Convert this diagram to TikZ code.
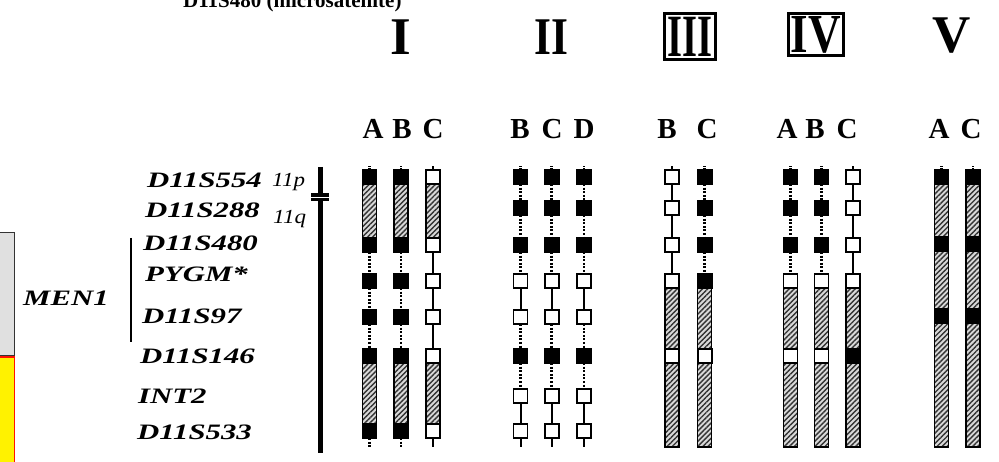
\documentclass[tikz,border=0pt]{standalone}
\usepackage{fontspec}
\setmainfont{Liberation Serif}
\usetikzlibrary{patterns.meta,backgrounds}

% horizontally stretched text for locus names
\newcommand\lcwide[1]{\scalebox{1.4}[1]{#1}}

\begin{document}
\begin{tikzpicture}[x=1pt,y=-1pt,
  mk/.style={draw=black, line width=1.6pt, minimum width=14pt, minimum height=14pt, inner sep=0pt, outer sep=0pt},
  blk/.style={mk, fill=black},
  wht/.style={mk, fill=white},
  hatchbar/.style={draw=black, line width=1.4pt, preaction={fill=black!15},
    pattern={Lines[angle=45, distance=3.6pt, line width=1.4pt]}, pattern color=black!80},
  dotlink/.style={line width=2.6pt, dash pattern=on 2pt off 1.6pt},
  sollink/.style={line width=2pt},
  roman/.style={inner sep=0pt, font=\fontsize{53}{53}\bfseries\selectfont},
  romanbox/.style={draw, line width=3pt, inner sep=0pt},
  colhead/.style={anchor=base, inner sep=0pt, font=\fontsize{29}{29}\bfseries\selectfont},
  locus/.style={anchor=base west, inner sep=0pt, font=\fontsize{22}{22}\bfseries\itshape\selectfont},
  arm/.style={anchor=base west, inner sep=0pt, font=\fontsize{20}{20}\itshape\selectfont}]
\clip (0,0) rectangle (999,462);

% coloured boxes at the left margin
\draw[draw=black!80, line width=1pt, fill=black!12] (-5,233) rectangle (14.5,356);
\draw[draw=red!85!orange, line width=1.2pt, fill=yellow] (-5,357) rectangle (14.5,470);

% heading
\node[anchor=base west, inner sep=0pt, font=\fontsize{21}{21}\bfseries\selectfont] (title) at (183,8) {D11S480 (microsatellite)};

% family numerals
\node[roman, anchor=base] (numI) at (401,55) {I};
\node[roman, anchor=base] (numII) at (551.5,55) {\scalebox{0.82}[1]{II}};
\node[romanbox, minimum width=51pt, minimum height=46pt, font=\fontsize{60}{60}\bfseries\selectfont] (numIII) at (690,36.5) {\scalebox{0.64}[1]{III}};
\node[romanbox, minimum width=55pt, minimum height=42pt, font=\fontsize{55}{55}\bfseries\selectfont] (numIV) at (816,34.5) {\scalebox{0.82}[1]{IV}};
\node[roman, anchor=base] (numV) at (951.5,53) {V};

% individual letters
\foreach \n/\t/\x in {IA/A/373, IB/B/402, IC/C/433,
                      IIB/B/520, IIC/C/552, IID/D/584,
                      IIIB/B/667, IIIC/C/707,
                      IVA/A/787, IVB/B/815, IVC/C/847,
                      VA/A/939, VC/C/971}
  \node[colhead] (h\n) at (\x,139) {\t};

% locus names
\node[locus] (l1) at (147,188) {\lcwide{D11S554}};
\node[locus] (l2) at (145,218) {\lcwide{D11S288}};
\node[locus] (l3) at (143,251) {\lcwide{D11S480}};
\node[locus] (l4) at (145,282) {\lcwide{PYGM*}};
\node[locus] (l5) at (142,324) {\lcwide{D11S97}};
\node[locus] (l6) at (140,363) {\lcwide{D11S146}};
\node[locus] (l7) at (138,403) {\lcwide{INT2}};
\node[locus] (l8) at (137,439) {\lcwide{D11S533}};
\node[locus] (men) at (23,306) {\lcwide{MEN1}};
\coordinate (menTop) at (131,238);
\coordinate (menBot) at (131,342);
\draw[line width=1.8pt] (menTop) -- (menBot);

% chromosome 11 ideogram
\node[arm] (armP) at (272,187) {\scalebox{1.15}[1]{11p}};
\node[arm] (armQ) at (273,224) {\scalebox{1.15}[1]{11q}};
\coordinate (pter) at (320,167);
\coordinate (qter) at (320,453);
\draw[line width=5pt] (pter) -- (qter);
\fill (311,193) rectangle (329,201);
\draw[white, line width=0.9pt] (310,197) -- (330,197);

% reference heights for the free ends of the bars
\coordinate (top) at (0,166);
\coordinate (bot) at (0,447);

% family I
\foreach \c/\x in {A/369.5, B/401}{
  \foreach \r/\y in {1/177, 3/245, 4/281, 5/317, 6/356, 8/431}
    \node[blk] (I\c\r) at (\x,\y) {};
  \begin{pgfonlayer}{background}
  \draw[hatchbar] (I\c1.south west) rectangle (I\c3.north east);
  \draw[hatchbar] (I\c6.south west) rectangle (I\c8.north east);
  \end{pgfonlayer}
  \draw[dotlink] (I\c3.south) -- (I\c4.north);
  \draw[dotlink] (I\c4.south) -- (I\c5.north);
  \draw[dotlink] (I\c5.south) -- (I\c6.north);
  \draw[dotlink] (I\c1.north) -- (I\c1.north |- top);
  \draw[dotlink] (I\c8.south) -- (I\c8.south |- bot);
}
\foreach \r/\y in {1/177, 3/245, 4/281, 5/317, 6/356, 8/431}
  \node[wht] (IC\r) at (433,\y) {};
\begin{pgfonlayer}{background}
\draw[hatchbar] (IC1.south west) rectangle (IC3.north east);
\draw[hatchbar] (IC6.south west) rectangle (IC8.north east);
\end{pgfonlayer}
\draw[sollink] (IC3.south) -- (IC4.north);
\draw[sollink] (IC4.south) -- (IC5.north);
\draw[sollink] (IC5.south) -- (IC6.north);
\draw[sollink] (IC1.north) -- (IC1.north |- top);
\draw[sollink] (IC8.south) -- (IC8.south |- bot);

% family II
\foreach \c/\x in {B/520.5, C/551.7, D/583.8}{
  \foreach \r/\y/\s in {1/177/blk, 2/208/blk, 3/245/blk, 4/281/wht,
                        5/317/wht, 6/356/blk, 7/396/wht, 8/431/wht}
    \node[\s] (II\c\r) at (\x,\y) {};
  \foreach \a/\b/\l in {1/2/dotlink, 2/3/dotlink, 3/4/dotlink, 4/5/sollink,
                        5/6/dotlink, 6/7/dotlink, 7/8/sollink}
    \draw[\l] (II\c\a.south) -- (II\c\b.north);
  \draw[dotlink] (II\c1.north) -- (II\c1.north |- top);
  \draw[sollink] (II\c8.south) -- (II\c8.south |- bot);
}

% family III
\foreach \c/\x/\s/\l in {B/672/wht/sollink, C/704.7/blk/dotlink}{
  \foreach \r/\y in {1/177, 2/208, 3/245, 4/281}
    \node[\s] (III\c\r) at (\x,\y) {};
  \node[wht] (III\c6) at (\x,356) {};
  \draw[\l] (III\c1.south) -- (III\c2.north);
  \draw[\l] (III\c2.south) -- (III\c3.north);
  \draw[\l] (III\c3.south) -- (III\c4.north);
  \draw[\l] (III\c1.north) -- (III\c1.north |- top);
  \begin{pgfonlayer}{background}
  \draw[hatchbar] (III\c4.south west) rectangle (III\c6.north east);
  \draw[hatchbar] (III\c6.south west) rectangle (III\c6.south east |- bot);
  \end{pgfonlayer}
}

% family IV
\foreach \c/\x/\s/\l/\t in {A/790.5/blk/dotlink/wht, B/821.3/blk/dotlink/wht, C/852.8/wht/sollink/blk}{
  \foreach \r/\y in {1/177, 2/208, 3/245}
    \node[\s] (IV\c\r) at (\x,\y) {};
  \node[wht] (IV\c4) at (\x,281) {};
  \node[\t] (IV\c6) at (\x,356) {};
  \draw[\l] (IV\c1.south) -- (IV\c2.north);
  \draw[\l] (IV\c2.south) -- (IV\c3.north);
  \draw[\l] (IV\c3.south) -- (IV\c4.north);
  \draw[\l] (IV\c1.north) -- (IV\c1.north |- top);
  \begin{pgfonlayer}{background}
  \draw[hatchbar] (IV\c4.south west) rectangle (IV\c6.north east);
  \draw[hatchbar] (IV\c6.south west) rectangle (IV\c6.south east |- bot);
  \end{pgfonlayer}
}

% family V
\foreach \c/\x in {A/941.3, C/972.8}{
  \foreach \r/\y in {1/177, 3/244, 5/316}
    \node[blk] (V\c\r) at (\x,\y) {};
  \begin{pgfonlayer}{background}
  \draw[hatchbar] (V\c1.south west) rectangle (V\c3.north east);
  \draw[hatchbar] (V\c3.south west) rectangle (V\c5.north east);
  \draw[hatchbar] (V\c5.south west) rectangle (V\c5.south east |- bot);
  \end{pgfonlayer}
  \draw[dotlink] (V\c1.north) -- (V\c1.north |- top);
}
\end{tikzpicture}
\end{document}
